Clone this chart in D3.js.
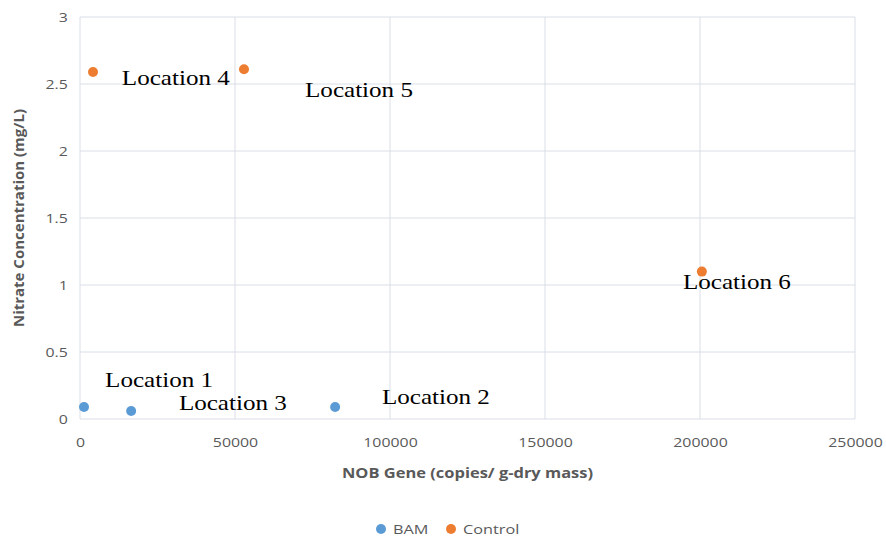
<!DOCTYPE html>
<html>
<head>
<meta charset="utf-8">
<script src="https://cdn.jsdelivr.net/npm/d3@7"></script>
<style>
  body { margin: 0; background: #fff; }
  .tick text { font-family: "Open Sans", sans-serif; font-size: 13px; fill: #595959; }
</style>
</head>
<body>
<script>
// data
let series = ['BAM', 'Control'];
let colors = ['#5b9bd5', '#ed7d31'];
let bamX = [1300, 16500, 82300];
let bamY = [0.09, 0.06, 0.09];
let controlX = [4200, 52900, 200600];
let controlY = [2.59, 2.61, 1.1];
let labels = ['Location 4', 'Location 5', 'Location 6', 'Location 1', 'Location 3', 'Location 2'];
let labelX = [13500, 72600, 194500, 8100, 31900, 97400];
let labelY = [2.49, 2.40, 0.97, 0.24, 0.065, 0.11];
let xTicks = [0, 50000, 100000, 150000, 200000, 250000];
let yTicks = [0, 0.5, 1, 1.5, 2, 2.5, 3];

let svgWidth = 886;
let svgHeight = 539;
let margins = { top: 17, right: 32, bottom: 120, left: 80 };
let chartWidth = 855 - margins.left;
let chartHeight = 419 - margins.top;
let stretch = 1.22;

let svg = d3.select('body')
  .append('svg')
  .attr('width', svgWidth)
  .attr('height', svgHeight);

let chart = svg.append('g')
  .attr('transform', `translate(${margins.left}, ${margins.top})`);

let x = d3.scaleLinear().domain([0, 250000]).range([0, chartWidth]);
let y = d3.scaleLinear().domain([0, 3]).range([chartHeight, 0]);

// gridlines
chart.append('g')
  .selectAll('line.h')
  .data(yTicks)
  .enter().append('line')
  .attr('x1', 0).attr('x2', chartWidth)
  .attr('y1', d => y(d)).attr('y2', d => y(d))
  .attr('stroke', '#d9dee6').attr('stroke-width', 1);

chart.append('g')
  .selectAll('line.v')
  .data(xTicks)
  .enter().append('line')
  .attr('y1', 0).attr('y2', chartHeight)
  .attr('x1', d => x(d)).attr('x2', d => x(d))
  .attr('stroke', '#d9dee6').attr('stroke-width', 1);

// axes (labels only)
let bottomAxis = d3.axisBottom(x).tickValues(xTicks).tickSize(0).tickPadding(19).tickFormat(d3.format('d'));
let leftAxis = d3.axisLeft(y).tickValues(yTicks).tickSize(0).tickPadding(10).tickFormat(d => d);

let gx = chart.append('g')
  .attr('transform', `translate(0, ${chartHeight})`)
  .call(bottomAxis);
gx.select('.domain').remove();
gx.selectAll('.tick text').attr('transform', `scale(${stretch}, 1)`);

let gy = chart.append('g').call(leftAxis);
gy.select('.domain').remove();
gy.selectAll('.tick text').attr('transform', `scale(${stretch}, 1)`);

// points
let bam = bamX.map((d, i) => ({ x: d, y: bamY[i] }));
let control = controlX.map((d, i) => ({ x: d, y: controlY[i] }));

chart.selectAll('.bam')
  .data(bam)
  .enter().append('circle')
  .attr('cx', d => x(d.x))
  .attr('cy', d => y(d.y))
  .attr('r', 5)
  .attr('fill', colors[0]);

chart.selectAll('.control')
  .data(control)
  .enter().append('circle')
  .attr('cx', d => x(d.x))
  .attr('cy', d => y(d.y))
  .attr('r', 5)
  .attr('fill', colors[1]);

// location labels
chart.selectAll('.loc')
  .data(labels)
  .enter().append('text')
  .attr('transform', (d, i) => `translate(${x(labelX[i])}, ${y(labelY[i])}) scale(1.14, 1)`)
  .attr('font-family', '"Liberation Serif", "Times New Roman", serif')
  .attr('font-size', '22px')
  .attr('fill', '#000')
  .text(d => d);

// axis titles
svg.append('text')
  .attr('transform', `translate(${margins.left + chartWidth / 2}, 478) scale(${stretch}, 1)`)
  .attr('text-anchor', 'middle')
  .attr('font-family', '"Open Sans", sans-serif')
  .attr('font-weight', 'bold')
  .attr('font-size', '13.5px')
  .attr('fill', '#595959')
  .text('NOB Gene (copies/ g-dry mass)');

svg.append('text')
  .attr('transform', `translate(24, ${margins.top + chartHeight / 2}) rotate(-90)`)
  .attr('text-anchor', 'middle')
  .attr('font-family', '"Open Sans", sans-serif')
  .attr('font-weight', 'bold')
  .attr('font-size', '15px')
  .attr('fill', '#595959')
  .text('Nitrate Concentration (mg/L)');

// legend
let legendX = [381, 451];
let legend = svg.selectAll('.legend')
  .data(series)
  .enter().append('g')
  .attr('transform', (d, i) => `translate(${legendX[i]}, 529)`);

legend.append('circle')
  .attr('r', 5)
  .attr('fill', (d, i) => colors[i]);

legend.append('text')
  .attr('transform', 'translate(12, 5) scale(1.25, 1)')
  .attr('font-family', '"Open Sans", sans-serif')
  .attr('font-size', '13px')
  .attr('fill', '#595959')
  .text(d => d);
</script>
</body>
</html>
